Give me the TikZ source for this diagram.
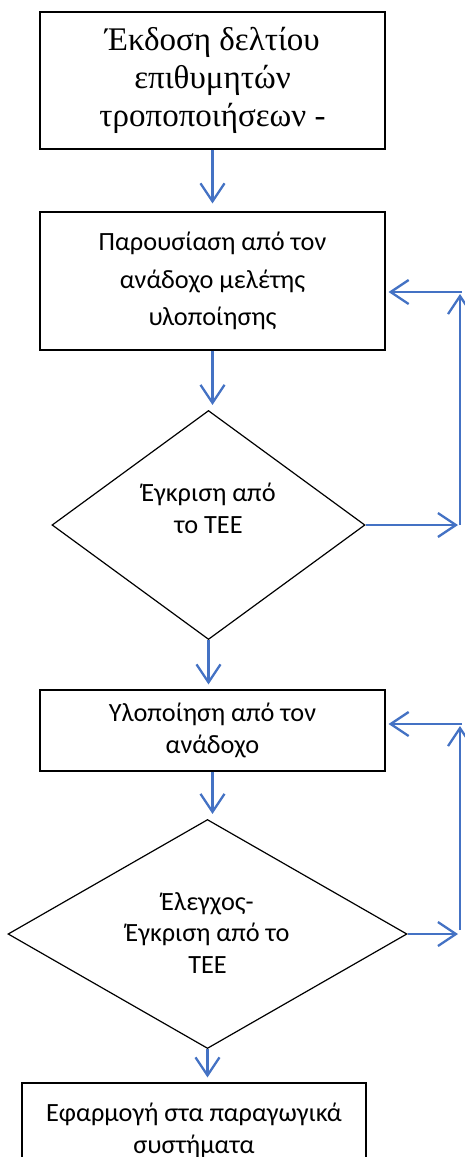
\documentclass[tikz,border=0pt]{standalone}
\usepackage{fontspec}
\setmainfont{Liberation Serif}
\newfontfamily\calib{Carlito}
\usetikzlibrary{shapes.geometric,arrows.meta}
\definecolor{accent}{RGB}{68,114,196}
\tikzset{
  boxnode/.style={draw=black, line width=1.2pt, rectangle, inner sep=0pt, align=center},
  dnode/.style={draw=black, line width=1.2pt, diamond, inner sep=0pt, aspect=1},
  sanstext/.style={font=\calib\fontsize{26.3}{31.7}\selectfont, align=center},
  serftext/.style={font=\fontsize{33}{37.8}\selectfont, align=center},
  arr/.style={draw=accent, line width=2.3pt, -{Straight Barb[length=18pt,width=24pt,line width=2.3pt]}},
}
\begin{document}
\begin{tikzpicture}[x=1pt,y=-1pt]
\clip (0,0) rectangle (465,1157);
\fill[white] (0,0) rectangle (465,1157);
% boxes
\node[boxnode, serftext, minimum width=345, minimum height=137] (b1) at (212.5,80.5)
  {Έκδοση δελτίου\\επιθυμητών\\τροποποιήσεων -};
\node[boxnode, font=\calib\fontsize{26.3}{37.5}\selectfont, minimum width=345, minimum height=138] (b2) at (212.5,281)
  {Παρουσίαση από τον\\ανάδοχο μελέτης\\υλοποίησης};
\node[dnode, minimum width=313, minimum height=229,
  label={[sanstext, yshift=17pt]center:{Έγκριση από\\το ΤΕΕ}}] (d1) at (208.5,525) {};
\node[boxnode, sanstext, minimum width=345, minimum height=81] (b3) at (212.5,730.5)
  {Υλοποίηση από τον\\ανάδοχο};
\node[dnode, minimum width=399, minimum height=229,
  label={[sanstext, yshift=1pt]center:{Έλεγχος-\\Έγκριση από το\\ΤΕΕ}}] (d2) at (207.5,934) {};
\node[boxnode, sanstext, minimum width=344, minimum height=95] (b4) at (194,1130.5)
  {Εφαρμογή στα παραγωγικά\\συστήματα};
% main flow
\draw[arr, shorten >=8pt] (b1.south) -- (b2.north);
\draw[arr, shorten >=5pt] (b2.south) -- (b2.south |- d1.north);
\draw[arr, shorten >=5pt] (d1.south) -- (d1.south |- b3.north);
\draw[arr, shorten >=5pt] (b3.south) -- (b3.south |- d2.north);
\draw[arr, shorten >=5pt] (d2.south) -- (d2.south |- b4.north);
% feedback loop 1
\coordinate (f1a) at (458,525);
\coordinate (f1b) at (460,525);
\coordinate (f1c) at (460,294);
\coordinate (f1d) at (462,292);
\draw[arr] (d1.east) -- (f1a);
\draw[arr] (f1b) -- (f1c);
\draw[arr, shorten >=3pt] (f1d) -- (b2.east |- f1d);
% feedback loop 2
\coordinate (f2a) at (458,934);
\coordinate (f2b) at (460,930);
\coordinate (f2c) at (460,726);
\coordinate (f2d) at (462,724);
\draw[arr] (d2.east) -- (f2a);
\draw[arr] (f2b) -- (f2c);
\draw[arr, shorten >=3pt] (f2d) -- (b3.east |- f2d);
\end{tikzpicture}
\end{document}
